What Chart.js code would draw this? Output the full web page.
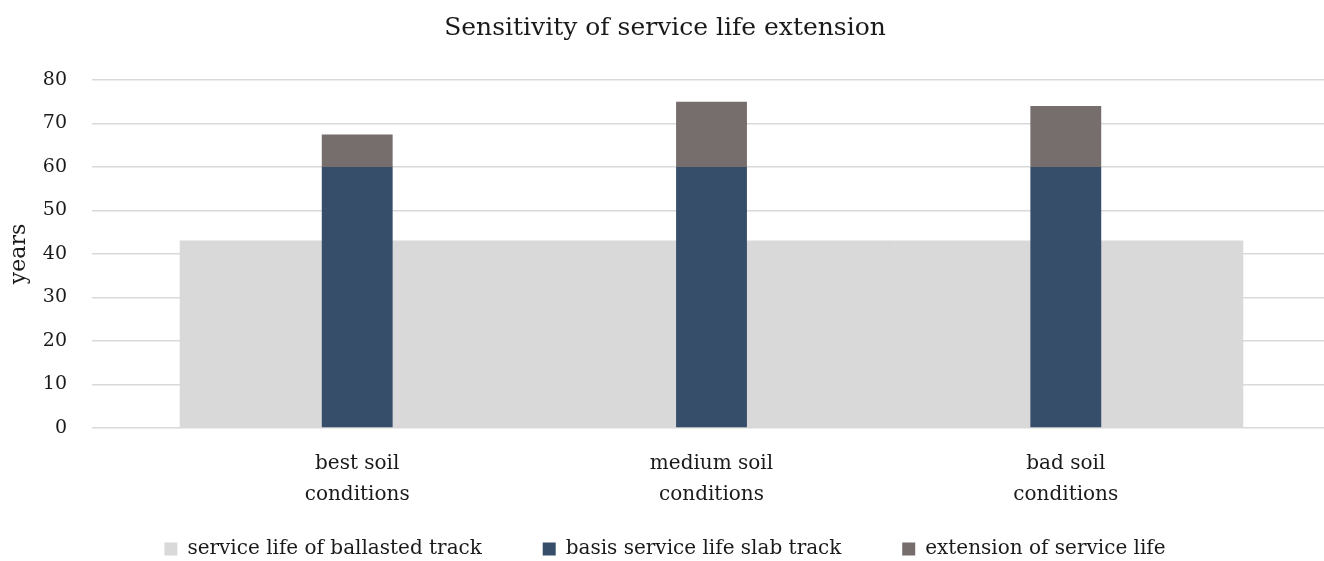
<!DOCTYPE html>
<html>
<head>
<meta charset="utf-8">
<script src="https://cdn.jsdelivr.net/npm/chart.js@4/dist/chart.umd.min.js"></script>
<style>
  html, body { margin: 0; padding: 0; background: #ffffff; }
  #wrap { width: 1324px; height: 561px; position: relative; }
</style>
</head>
<body>
<div id="wrap"><canvas id="chart"></canvas></div>
<script>
// Soil scenarios along the x axis
const categories = [['best soil', 'conditions'], ['medium soil', 'conditions'], ['bad soil', 'conditions']];
const positions = [1, 2, 3];

// Service life values in years
const ballastedLife = [43, 43, 43];
const slabBasisLife = [60, 60, 60];
const lifeExtension = [7.5, 15, 14];

const yTicks = [0, 10, 20, 30, 40, 50, 60, 70, 80];

const seriesNames = ['service life of ballasted track', 'basis service life slab track', 'extension of service life'];

const serif = "'DejaVu Serif', 'Liberation Serif', serif";
const textColor = '#1a1a1a';

const toPoints = vals => vals.map((v, i) => ({ x: positions[i], y: v }));

// Visible x range: leaves room left and right of the ballasted-track band
const xRange = { min: 0.2514, max: 3.7288 };

const legendPad = 29;
const legendFont = 20;
const legendTail = '\u00a0'.repeat(5);   // extra room after each legend entry but the last

const setPositionTicks = axis => { axis.ticks = positions.map(v => ({ value: v })); };

new Chart(document.getElementById('chart'), {
  type: 'bar',
  data: {
    datasets: [
      {
        label: seriesNames[0],
        data: toPoints(ballastedLife),
        backgroundColor: '#d9d9d9',
        xAxisID: 'x2',
        grouped: false,
        barPercentage: 1,
        categoryPercentage: 1,
        order: 2
      },
      {
        label: seriesNames[1],
        data: toPoints(slabBasisLife),
        backgroundColor: '#374e6a',
        xAxisID: 'x',
        grouped: false,
        barPercentage: 0.2,
        categoryPercentage: 1,
        order: 1
      },
      {
        label: seriesNames[2],
        data: toPoints(lifeExtension),
        backgroundColor: '#766d6d',
        xAxisID: 'x',
        grouped: false,
        barPercentage: 0.2,
        categoryPercentage: 1,
        order: 1
      }
    ]
  },
  options: {
    responsive: true,
    maintainAspectRatio: false,
    animation: false,
    layout: { padding: { top: 8, right: 0, bottom: 1, left: 6 } },
    plugins: {
      title: {
        display: true,
        text: 'Sensitivity of service life extension',
        color: textColor,
        font: { family: serif, size: 25, weight: 'normal' },
        padding: { top: 5, bottom: 37 }
      },
      legend: {
        position: 'bottom',
        maxHeight: 50,
        labels: {
          color: textColor,
          font: { family: serif, size: legendFont },
          boxWidth: 13,
          boxHeight: 13,
          padding: legendPad,
          generateLabels: chart => {
            const items = Chart.defaults.plugins.legend.labels.generateLabels(chart)
              .sort((a, b) => a.datasetIndex - b.datasetIndex);
            items.forEach((item, i) => {
              item.lineWidth = 0;
              if (i < items.length - 1) item.text = item.text + legendTail;
            });
            return items;
          }
        }
      },
      tooltip: { enabled: false }
    },
    scales: {
      x: {
        type: 'linear',
        stacked: true,
        min: xRange.min,
        max: xRange.max,
        offset: false,
        grid: { display: false, drawTicks: false },
        border: { display: false },
        afterBuildTicks: setPositionTicks,
        afterFit: scale => { scale.height = 82; },
        ticks: {
          color: textColor,
          font: { family: serif, size: 20, lineHeight: 1.55 },
          padding: 20,
          maxRotation: 0,
          autoSkip: false,
          callback: (value) => {
            const i = positions.indexOf(value);
            return i >= 0 ? categories[i] : '';
          }
        }
      },
      x2: {
        type: 'linear',
        stacked: true,
        min: xRange.min,
        max: xRange.max,
        offset: false,
        display: false,
        afterBuildTicks: setPositionTicks
      },
      y: {
        stacked: true,
        min: 0,
        max: 80,
        afterBuildTicks: axis => { axis.ticks = yTicks.map(v => ({ value: v })); },
        afterFit: scale => { scale.width = 86; },
        grid: { color: '#d9d9d9', lineWidth: 1.5, drawTicks: false },
        border: { display: false },
        ticks: {
          color: textColor,
          font: { family: serif, size: 19 },
          padding: 25
        },
        title: {
          display: true,
          text: 'years',
          color: textColor,
          font: { family: serif, size: 22 },
          padding: { top: 0, bottom: 4 }
        }
      }
    }
  }
});
</script>
</body>
</html>
